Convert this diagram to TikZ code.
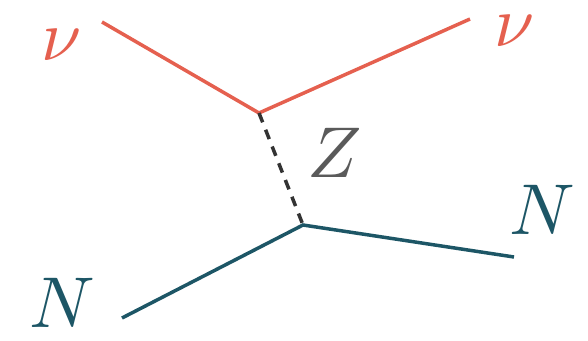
\documentclass[tikz,border=0pt]{standalone}
\definecolor{nured}{HTML}{E5604F}
\definecolor{nteal}{HTML}{1D5666}
\definecolor{zgray}{HTML}{5A5A5A}
\definecolor{dashgray}{HTML}{333333}
\tikzset{
  lbl/.style={inner sep=0pt, scale=7.2},
  nuline/.style={draw=nured, line width=3.5pt},
  nline/.style={draw=nteal, line width=3.5pt},
  zline/.style={draw=dashgray, line width=3.5pt, dash pattern=on 10pt off 8pt},
}
\begin{document}
\begin{tikzpicture}[x=1pt,y=-1pt]
\useasboundingbox (0,0) rectangle (588,340);
\coordinate (a) at (102,22);
\coordinate (b) at (470,19);
\coordinate (v1) at (259,113);
\coordinate (v2) at (303,225);
\coordinate (c) at (122,318);
\coordinate (d) at (514,257);
\draw[nuline] (a) -- (v1) -- (b);
\draw[nline] (c) -- (v2) -- (d);
\draw[zline] (v1) -- (v2);
\node[lbl, text=nured] (nu1) at (62,45) {$\nu$};
\node[lbl, text=nured] (nu2) at (515,31) {$\nu$};
\node[lbl, text=zgray] (z) at (335,153) {$Z$};
\node[lbl, text=nteal] (n1) at (62,303) {$N$};
\node[lbl, text=nteal] (n2) at (542,210) {$N$};
\end{tikzpicture}
\end{document}
